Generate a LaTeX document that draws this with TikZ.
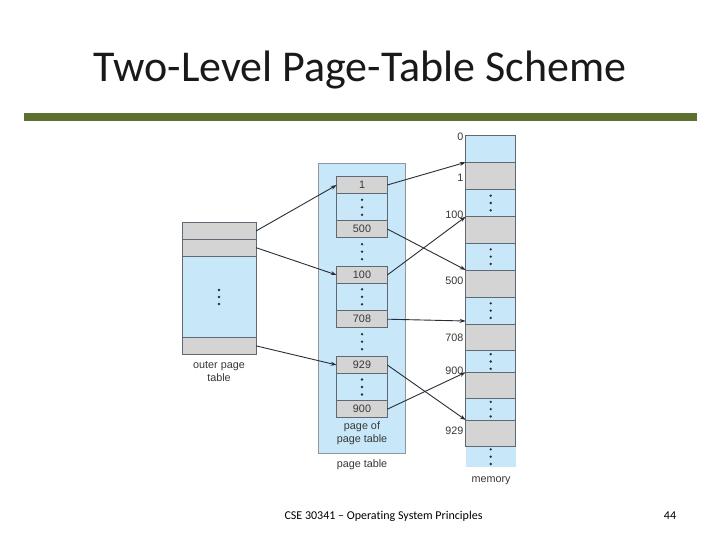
\documentclass[tikz,border=0pt]{standalone}
\usepackage{fontspec}
\setmainfont{Carlito}[Ligatures={NoCommon}]
\newfontfamily\arialf{Liberation Sans}
\usetikzlibrary{arrows.meta}
\definecolor{lblue}{RGB}{200,232,249}
\definecolor{lgray}{RGB}{212,212,212}
\definecolor{olivebar}{RGB}{94,112,48}
\definecolor{edgec}{RGB}{95,105,115}
\definecolor{arrc}{RGB}{40,45,55}
\definecolor{txtc}{RGB}{55,55,55}
\newcommand\diagfont{\arialf\fontsize{10.8}{13}\selectfont}
\begin{document}
\begin{tikzpicture}[x=1pt,y=-1pt,
  cellbox/.style={draw=edgec,line width=0.6pt,anchor=north west,inner sep=0pt,outer sep=0pt,font=\diagfont,text=txtc},
  otcell/.style={cellbox,minimum width=74pt},
  ptcell/.style={cellbox,minimum width=50.6pt},
  memcell/.style={cellbox,minimum width=50pt},
  lbl/.style={font=\diagfont,text=txtc,align=center,inner sep=0pt},
  arrow/.style={draw=arrc,line width=0.9pt,-{Stealth[length=6pt,width=4pt]}},
  dotc/.style={fill=arrc}]
\useasboundingbox (0,0) rectangle (720,540);
\fill[white] (0,0) rectangle (720,540);
% title
\node[anchor=base,font=\fontsize{44}{50}\selectfont,text=black!90,inner sep=0pt] (title) at (360,82) {Two-Level Page-Table Scheme};
\fill[olivebar] (24,113) rectangle (697,121);
% outer page table
\node[otcell,fill=lgray,minimum height=16.6pt] (o1) at (182,222.7) {};
\node[otcell,fill=lgray,minimum height=16.7pt] (o2) at (182,239.3) {};
\node[otcell,fill=lblue,minimum height=81.7pt] (o3) at (182,256) {};
\node[otcell,fill=lgray,minimum height=16.3pt] (o4) at (182,337.7) {};
\foreach \yy in {290,297,304} \fill[dotc] (219,\yy) circle (1.3pt);
\node[lbl] (olbl) at (219,372) {outer page\\table};
% page table
\node[draw=edgec!70,line width=0.6pt,fill=lblue,anchor=north west,minimum width=86.7pt,minimum height=290pt,inner sep=0pt,outer sep=0pt] (pt) at (318.3,163.3) {};
\node[ptcell,fill=lgray,minimum height=16.6pt] (p1) at (336.7,176.7) {1};
\node[ptcell,fill=lblue,minimum height=27.4pt] (pd1) at (336.7,193.3) {};
\node[ptcell,fill=lgray,minimum height=16.6pt] (p500) at (336.7,220.7) {500};
\node[ptcell,fill=lgray,minimum height=16.6pt] (p100) at (336.7,266.7) {100};
\node[ptcell,fill=lblue,minimum height=27.4pt] (pd2) at (336.7,283.3) {};
\node[ptcell,fill=lgray,minimum height=17pt] (p708) at (336.7,310.7) {708};
\node[ptcell,fill=lgray,minimum height=16.6pt] (p929) at (336.7,356.7) {929};
\node[ptcell,fill=lblue,minimum height=27.4pt] (pd3) at (336.7,373.3) {};
\node[ptcell,fill=lgray,minimum height=17pt] (p900) at (336.7,400.7) {900};
\foreach \yc in {207.3,251.7,296.8,341.7,387} {
  \foreach \dy in {-7.5,0,7.5} \fill[dotc] (362,\yc+\dy) circle (1.3pt);
}
\node[lbl] (pplbl) at (362,433.5) {page of\\page table};
\node[lbl] (ptlbl) at (362,465) {page table};
% memory
\node[memcell,fill=lblue,minimum height=27.3pt] (m0) at (465.7,135) {};
\node[memcell,fill=lgray,minimum height=27pt] (m1) at (465.7,162.3) {};
\node[memcell,fill=lblue,minimum height=27.4pt] (md1) at (465.7,189.3) {};
\node[memcell,fill=lgray,minimum height=26.6pt] (m100) at (465.7,216.7) {};
\node[memcell,fill=lblue,minimum height=26.7pt] (md2) at (465.7,243.3) {};
\node[memcell,fill=lgray,minimum height=27.3pt] (m500) at (465.7,270) {};
\node[memcell,fill=lblue,minimum height=26.7pt] (md3) at (465.7,297.3) {};
\node[memcell,fill=lgray,minimum height=26.7pt] (m708) at (465.7,324) {};
\node[memcell,fill=lblue,minimum height=21.6pt] (md4) at (465.7,350.7) {};
\node[memcell,fill=lgray,minimum height=26pt] (m900) at (465.7,372.3) {};
\node[memcell,fill=lblue,minimum height=21.7pt] (md5) at (465.7,398.3) {};
\node[memcell,fill=lgray,minimum height=26.7pt] (m929) at (465.7,420) {};
\node[memcell,fill=lblue,draw=none,minimum height=20pt] (md6) at (465.7,446.7) {};
\foreach \nm in {md1,md2,md3,md4,md5,md6} {
  \foreach \dy in {-7.3,0,7.3} \fill[dotc] ([yshift=-\dy pt]\nm.center) circle (1.3pt);
}
\node[lbl,anchor=east] (l0) at (463.5,137) {0};
\node[lbl,anchor=east] (l1) at (463.5,178) {1};
\node[lbl,anchor=east] (l100) at (463.5,215) {100};
\node[lbl,anchor=east] (l500) at (463.5,281) {500};
\node[lbl,anchor=east] (l708) at (463.5,337.5) {708};
\node[lbl,anchor=east] (l900) at (463.5,371) {900};
\node[lbl,anchor=east] (l929) at (463.5,431) {929};
\node[lbl] (mlbl) at (491,481) {memory};
% arrows outer -> page table
\draw[arrow] (o1.east) -- (p1.west);
\draw[arrow] (o2.east) -- (p100.west);
\draw[arrow] (o4.east) -- (p929.west);
% arrows page table -> memory
\draw[arrow] (p1.east) -- (m1.north west);
\draw[arrow] (p500.east) -- (m500.north west);
\draw[arrow] (p100.east) -- (m100.north west);
\draw[arrow] (p708.east) -- ([yshift=3pt]m708.north west);
\draw[arrow] (p929.east) -- (m929.north west);
\draw[arrow] (p900.east) -- (m900.north west);
% footer
\node[anchor=base,font=\fontsize{12}{14}\selectfont,inner sep=0pt] (foot) at (383.5,519) {CSE 30341 – Operating System Principles};
\node[anchor=base,font=\fontsize{12}{14}\selectfont,inner sep=0pt] (pg) at (670,519) {44};
\end{tikzpicture}
\end{document}
